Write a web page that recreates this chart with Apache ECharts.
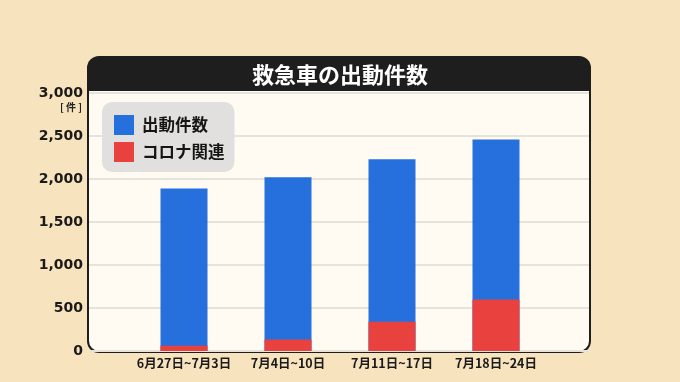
<!DOCTYPE html>
<html>
<head>
<meta charset="utf-8">
<script src="https://cdn.jsdelivr.net/npm/echarts@6/dist/echarts.min.js"></script>
<style>
html,body{margin:0;padding:0;background:#F7E3BE;}
#c{width:680px;height:382px;}
</style>
</head>
<body>
<div id="c"></div>
<script>
const categories = ['6月27日~7月3日', '7月4日~10日', '7月11日~17日', '7月18日~24日'];
const seriesNames = ['出動件数', 'コロナ関連'];
const totalCalls = [1890, 2020, 2230, 2460];
const coronaCalls = [60, 135, 340, 600];
const yTicks = [0, 500, 1000, 1500, 2000, 2500, 3000];
const titleText = '救急車の出動件数';
const unitText = '[ 件 ]';

const FONT = '"Noto Sans CJK JP", "Noto Sans", sans-serif';
const NUMFONT = '"DejaVu Sans", sans-serif';
const chart = echarts.init(document.getElementById('c'), null, {renderer: 'canvas'});
const yMin = yTicks[0], yMax = yTicks[yTicks.length - 1], yStep = yTicks[1] - yTicks[0];

chart.setOption({
  backgroundColor: '#F7E3BE',
  animation: false,
  title: {
    text: titleText,
    left: 'center',
    top: 59,
    textStyle: {color: '#ffffff', fontSize: 22, fontWeight: 'bold', fontFamily: FONT}
  },
  legend: {
    orient: 'vertical',
    left: 102,
    top: 102,
    data: seriesNames,
    icon: 'rect',
    itemWidth: 20,
    itemHeight: 20,
    itemGap: 7,
    padding: [13, 10, 10, 12],
    backgroundColor: '#E1E0DE',
    borderRadius: 10,
    textStyle: {fontSize: 16.5, fontWeight: 'bold', color: '#151515', fontFamily: FONT, padding: [0, 0, 0, 3]},
    selectedMode: false,
    z: 20
  },
  graphic: [
    {type: 'rect', z: -10, shape: {x: 87, y: 56, width: 504, height: 297, r: 12}, style: {fill: '#1E1E1E'}},
    {type: 'rect', z: -9, shape: {x: 89, y: 91, width: 500, height: 260, r: [0, 0, 10, 10]}, style: {fill: '#FFFAF2'}},
    {type: 'text', z: 5, x: 82, y: 102, style: {text: unitText, textAlign: 'right', fontSize: 10, fontWeight: 'bold', fill: '#222', fontFamily: FONT}}
  ],
  grid: [
    {left: 89, right: 91, top: 93, bottom: 31},
    {left: 132, right: 132, top: 93, bottom: 31}
  ],
  xAxis: [
    {gridIndex: 0, type: 'value', show: false, min: 0, max: 1},
    {
      gridIndex: 1, type: 'category', data: categories,
      axisLine: {show: false}, axisTick: {show: false},
      axisLabel: {interval: 0, margin: 6, fontSize: 12.5, fontWeight: 'bold', color: '#1a1a1a', fontFamily: FONT}
    }
  ],
  yAxis: [
    {
      gridIndex: 0, type: 'value', min: yMin, max: yMax, interval: yStep,
      axisLine: {show: false}, axisTick: {show: false},
      axisLabel: {
        margin: 6, fontSize: 14, fontWeight: 'bold', color: '#1a1a1a', fontFamily: NUMFONT,
        formatter: v => v.toLocaleString('en-US')
      },
      splitLine: {lineStyle: {color: '#E8E3DA', width: 2}}
    },
    {gridIndex: 1, type: 'value', min: yMin, max: yMax, interval: yStep, show: false, splitLine: {show: false}}
  ],
  series: [
    {
      name: seriesNames[0], type: 'bar', xAxisIndex: 1, yAxisIndex: 1,
      data: totalCalls, barWidth: 47, barGap: '-100%',
      itemStyle: {color: '#2570DD'}
    },
    {
      name: seriesNames[1], type: 'bar', xAxisIndex: 1, yAxisIndex: 1,
      data: coronaCalls, barWidth: 47, barGap: '-100%',
      itemStyle: {color: '#E8413E'}
    }
  ]
});
</script>
</body>
</html>
